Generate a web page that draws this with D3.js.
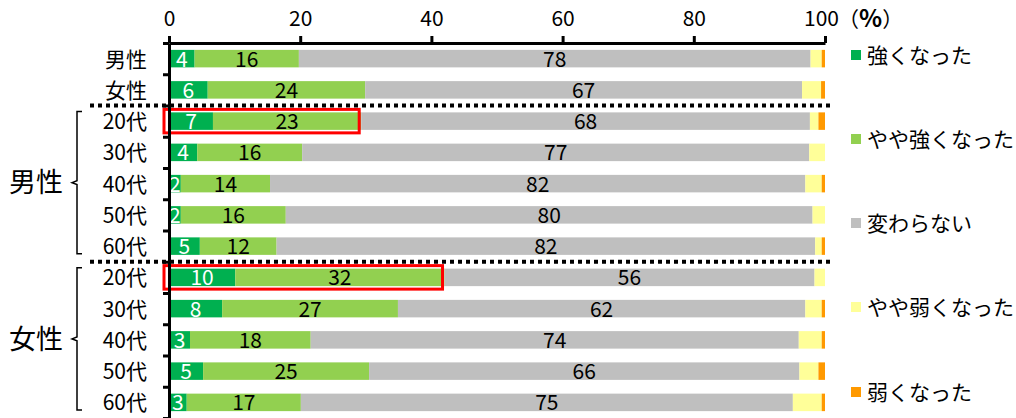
<!DOCTYPE html>
<html>
<head>
<meta charset="utf-8">
<script src="https://cdn.jsdelivr.net/npm/d3@7"></script>
<style>
  body { margin: 0; background: #fff; }
  svg { font-family: "Noto Sans CJK JP", "Noto Sans", sans-serif; }
</style>
</head>
<body>
<div id="chart"></div>
<script>
// 行（カテゴリ）
const rowKeys = ['男性', '女性', '男20', '男30', '男40', '男50', '男60', '女20', '女30', '女40', '女50', '女60'];
const rowLabels = ['男性', '女性', '20代', '30代', '40代', '50代', '60代', '20代', '30代', '40代', '50代', '60代'];
// 系列
const seriesNames = ['強くなった', 'やや強くなった', '変わらない', 'やや弱くなった', '弱くなった'];
const seriesColors = ['#00B050', '#92D050', '#BFBFBF', '#FFFF99', '#FF9900'];
// 値（%）
const strong = [3.9, 5.9, 6.7, 4.3, 1.8, 1.8, 4.7, 10.1, 8.1, 3.2, 5.2, 2.7];
const slightlyStrong = [15.9, 24.0, 22.6, 16.0, 13.6, 16.0, 11.7, 31.9, 26.8, 18.4, 25.3, 17.4];
const noChange = [78.0, 66.6, 68.4, 77.3, 81.6, 80.3, 82.1, 56.4, 62.1, 74.4, 65.6, 75.0];
const slightlyWeak = [1.7, 2.9, 1.3, 2.4, 2.5, 1.9, 1.0, 1.6, 2.5, 3.5, 2.9, 4.4];
const weak = [0.5, 0.6, 1.0, 0, 0.5, 0, 0.5, 0, 0.5, 0.5, 1.0, 0.5];
const xTicks = [0, 20, 40, 60, 80, 100];
// 強調する行
const highlightRows = ['男20', '女20'];

const W = 1016, H = 418;
const svg = d3.select('#chart').append('svg').attr('width', W).attr('height', H);

const table = rowKeys.map((k, i) => ({
    key: k,
    s0: strong[i], s1: slightlyStrong[i], s2: noChange[i], s3: slightlyWeak[i], s4: weak[i]
}));
const stack = d3.stack().keys(['s0', 's1', 's2', 's3', 's4']);
const layers = stack(table);

const x = d3.scaleLinear().domain([0, 100]).range([169, 825]);
const y = d3.scaleBand().domain(rowKeys).range([43, 418]).paddingInner(0.44).paddingOuter(0.22);
const step = y.step();
const bandTop = i => y.range()[0] + i * step;

// 棒
const g = svg.append('g');
g.selectAll('g.layer')
    .data(layers)
    .enter()
    .append('g')
    .attr('class', 'layer')
    .attr('fill', (d, i) => seriesColors[i])
    .selectAll('rect')
    .data(d => d)
    .enter()
    .append('rect')
    .attr('x', d => x(d[0]))
    .attr('y', d => y(d.data.key))
    .attr('width', d => x(d[1]) - x(d[0]))
    .attr('height', y.bandwidth());

// 数値ラベル（先頭3系列）
layers.slice(0, 3).forEach((layer, li) => {
    svg.append('g').selectAll('text')
        .data(layer)
        .enter()
        .append('text')
        .attr('x', d => (x(d[0]) + x(d[1])) / 2)
        .attr('y', d => y(d.data.key) + y.bandwidth() / 2)
        .attr('dy', '0.38em')
        .attr('text-anchor', 'middle')
        .attr('font-size', 21)
        .attr('fill', li === 0 ? '#fff' : '#000')
        .text(d => d3.format('.0f')(d[1] - d[0]));
});

// 強調枠
svg.append('g').selectAll('rect')
    .data(layers[1].filter(d => highlightRows.includes(d.data.key)))
    .enter()
    .append('rect')
    .attr('x', x(0) - 5)
    .attr('y', d => y(d.data.key) - 3)
    .attr('width', d => x(d[1]) - x(0) + 3)
    .attr('height', y.bandwidth() + 6)
    .attr('fill', 'none')
    .attr('stroke', '#FF0000')
    .attr('stroke-width', 3);

// 上の軸
const xAxis = svg.append('g')
    .attr('transform', 'translate(0,43)')
    .call(d3.axisTop(x).tickValues(xTicks).tickSize(7).tickSizeOuter(0).tickPadding(10));
xAxis.select('.domain').attr('stroke', '#000').attr('stroke-width', 3);
xAxis.selectAll('.tick line').attr('stroke-width', 3);
xAxis.selectAll('.tick text').attr('font-size', 21).attr('fill', '#000').attr('font-family', '"Noto Sans CJK JP", sans-serif');
xAxis.selectAll('.tick text').filter(d => d === 100).attr('dx', -4);

const unit = svg.append('text').attr('x', 838).attr('y', 27).attr('font-size', 21);
unit.append('tspan').text('（');
unit.append('tspan').attr('font-weight', 'bold').attr('font-size', 24).text('%');
unit.append('tspan').text('）');

// 左の軸（区切り目盛）
const yIdx = d3.scaleLinear().domain([0, rowKeys.length]).range([bandTop(0), bandTop(rowKeys.length)]);
const yAxis = svg.append('g')
    .attr('transform', 'translate(169,0)')
    .call(d3.axisLeft(yIdx).tickValues(d3.range(rowKeys.length + 1)).tickSize(6).tickSizeOuter(0).tickFormat(''));
yAxis.select('.domain').attr('stroke', '#000').attr('stroke-width', 3);
yAxis.selectAll('.tick line').attr('stroke-width', 3);

// 行ラベル
svg.append('g').selectAll('text')
    .data(rowKeys)
    .enter()
    .append('text')
    .attr('x', 147)
    .attr('y', d => y(d) + y.bandwidth() / 2)
    .attr('dy', '0.38em')
    .attr('text-anchor', 'end')
    .attr('font-size', 21)
    .text((d, i) => rowLabels[i]);

// 点線の区切り
[2, 7].forEach(i => {
    svg.append('line')
        .attr('x1', 90).attr('x2', 830)
        .attr('y1', bandTop(i)).attr('y2', bandTop(i))
        .attr('stroke', '#000')
        .attr('stroke-width', 4)
        .attr('stroke-dasharray', '4,4');
});

// グループの括弧と見出し
const groups = [
    { name: '男性', from: 2, to: 7 },
    { name: '女性', from: 7, to: 12 }
];
groups.forEach(gr => {
    const t = bandTop(gr.from) + 6, b = bandTop(gr.to) - 8, m = (t + b) / 2;
    svg.append('path')
        .attr('d', `M82,${t} L77,${t} L77,${m - 2} L72,${m} L77,${m + 2} L77,${b} L82,${b}`)
        .attr('fill', 'none')
        .attr('stroke', '#000')
        .attr('stroke-width', 1.5);
    svg.append('text')
        .attr('x', 36)
        .attr('y', m)
        .attr('dy', '0.36em')
        .attr('text-anchor', 'middle')
        .attr('font-size', 27)
        .text(gr.name);
});

// 凡例
const legendY = [55, 139, 223, 307, 392];
const legend = svg.append('g').selectAll('g')
    .data(seriesNames)
    .enter()
    .append('g')
    .attr('transform', (d, i) => 'translate(851,' + legendY[i] + ')');
legend.append('rect')
    .attr('x', 0).attr('y', -5)
    .attr('width', 10).attr('height', 10)
    .attr('fill', (d, i) => seriesColors[i]);
legend.append('text')
    .attr('x', 16)
    .attr('dy', '0.36em')
    .attr('font-size', 21)
    .text(d => d);
</script>
</body>
</html>
